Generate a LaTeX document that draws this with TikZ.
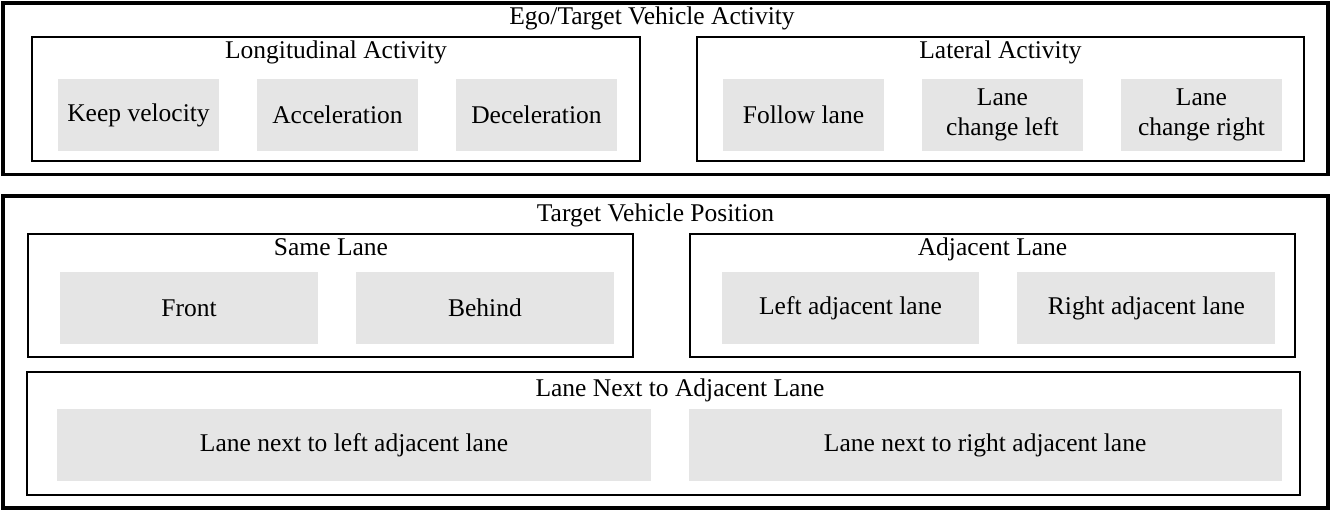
\documentclass[tikz,border=0pt]{standalone}
\usepackage{fontspec}
\setmainfont{Liberation Serif}
\usetikzlibrary{positioning}

\begin{document}
\begin{tikzpicture}[x=0.392pt, y=-0.392pt, node distance=14.5pt,
    outerbox/.style={draw, line width=1.2pt, inner sep=0pt, minimum width=519.4pt},
    groupbox/.style={draw, line width=0.8pt, inner sep=0pt, minimum height=48.4pt},
    itembox/.style={fill=gray!20, inner sep=0pt, minimum height=28.2pt, align=center},
    smallitem/.style={itembox, minimum width=63.1pt},
    miditem/.style={itembox, minimum width=101.1pt},
    wideitem/.style={itembox, minimum width=232.5pt},
    boxtitle/.style={anchor=base, inner sep=0pt}]
        \useasboundingbox (0,0) rectangle (1340,510);
        % activity part
        \node[outerbox, minimum height=67.4pt] (activity) at (665.5,89) {};
        \node[boxtitle] (activitytitle) at (652,25) {Ego/Target Vehicle Activity};
        \node[groupbox, minimum width=238.3pt] (longi) at (336,99) {};
        \node[boxtitle] (longititle) at (336,59) {Longitudinal Activity};
        \node[groupbox, minimum width=238pt] (lat) at (1000.5,99) {};
        \node[boxtitle] (lattitle) at (1000.5,59) {Lateral Activity};
        \node[smallitem] (keep) at (138.5,115) {Keep velocity};
        \node[smallitem, right=of keep] (accel) {Acceleration};
        \node[smallitem, right=of accel] (decel) {Deceleration};
        \node[smallitem] (follow) at (803.5,115) {Follow lane};
        \node[smallitem, right=of follow] (changeleft) {Lane\\change left};
        \node[smallitem, right=of changeleft] (changeright) {Lane\\change right};
        % position part
        \node[outerbox, minimum height=122.3pt] (position) at (665.5,352) {};
        \node[boxtitle] (positiontitle) at (655.5,222) {Target Vehicle Position};
        \node[groupbox, minimum width=237.2pt] (same) at (330.5,295.5) {};
        \node[boxtitle] (sametitle) at (331,256) {Same Lane};
        \node[groupbox, minimum width=237.2pt] (adj) at (992.5,295.5) {};
        \node[boxtitle] (adjtitle) at (992.5,256) {Adjacent Lane};
        \node[groupbox, minimum width=499pt] (next) at (663.5,433.5) {};
        \node[boxtitle] (nexttitle) at (680,397) {Lane Next to Adjacent Lane};
        \node[miditem] (front) at (189,308) {Front};
        \node[miditem, right=of front] (behind) {Behind};
        \node[miditem] (leftadj) at (850.5,308) {Left adjacent lane};
        \node[miditem, right=of leftadj] (rightadj) {Right adjacent lane};
        \node[wideitem] (nextleft) at (354,445) {Lane next to left adjacent lane};
        \node[wideitem, right=of nextleft] (nextright) {Lane next to right adjacent lane};
    \end{tikzpicture}
\end{document}
